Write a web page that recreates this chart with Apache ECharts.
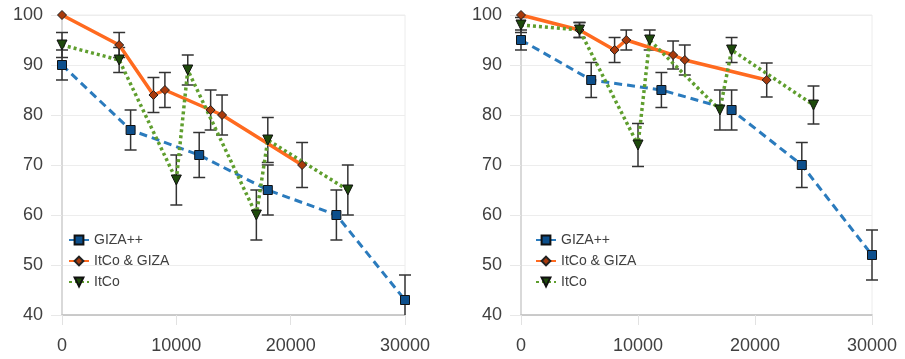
<!DOCTYPE html>
<html>
<head>
<meta charset="utf-8">
<script src="https://cdn.jsdelivr.net/npm/echarts@6/dist/echarts.min.js"></script>
<style>
  html, body { margin: 0; padding: 0; background: #fff; }
  #chart { width: 905px; height: 359px; }
</style>
</head>
<body>
<div id="chart"></div>
<script>
// x positions (training size) for each series
var gizaX = [0, 6000, 12000, 18000, 24000, 30000];
var itcoGizaX = [0, 5000, 8000, 9000, 13000, 14000, 21000];
var itcoX = [0, 5000, 10000, 11000, 17000, 18000, 25000];

// left panel values and error sizes
var gizaLeft = [90, 77, 72, 65, 60, 43];
var gizaLeftErr = [3, 4, 4.5, 5, 5, 5];
var itcoGizaLeft = [100, 94, 84, 85, 81, 80, 70];
var itcoGizaLeftErr = [0, 2.5, 3.5, 3.5, 4, 4, 4.5];
var itcoLeft = [94, 91, 67, 89, 60, 75, 65];
var itcoLeftErr = [2.5, 2.5, 5, 3, 5, 4.5, 5];

// right panel values and error sizes
var gizaRight = [95, 87, 85, 81, 70, 52];
var gizaRightErr = [2, 3.5, 3.5, 4, 4.5, 5];
var itcoGizaRight = [100, 97, 93, 95, 92, 91, 87];
var itcoGizaRightErr = [0, 1.5, 2.5, 2, 2.8, 3, 3.4];
var itcoRight = [98, 97, 74, 95, 81, 93, 82];
var itcoRightErr = [1.5, 1.5, 4.3, 2, 4, 2.5, 3.8];

var seriesNames = ['GIZA++', 'ItCo & GIZA', 'ItCo'];
var xTicks = { min: 0, max: 30000, interval: 10000 };
var yTicks = { min: 40, max: 100, interval: 10 };

var font = 'Liberation Sans, Arial, sans-serif';

function pairs(xs, ys) {
    return xs.map(function (x, i) { return [x, ys[i]]; });
}

function errData(xs, ys, errs) {
    var out = [];
    xs.forEach(function (x, i) {
        if (errs[i] > 0) out.push([x, ys[i] - errs[i], ys[i] + errs[i]]);
    });
    return out;
}

function renderErr(params, api) {
    var cs = params.coordSys;
    var x = api.value(0);
    var lo = api.coord([x, api.value(1)]);
    var hi = api.coord([x, api.value(2)]);
    var yTop = cs.y, yBot = cs.y + cs.height;
    var half = 6;
    var style = { stroke: '#333', lineWidth: 1.5 };
    var y1 = Math.max(hi[1], yTop), y2 = Math.min(lo[1], yBot);
    var kids = [{
        type: 'line', shape: { x1: hi[0], y1: y1, x2: lo[0], y2: y2 }, style: style
    }];
    if (hi[1] >= yTop) {
        kids.push({ type: 'line', shape: { x1: hi[0] - half, y1: hi[1], x2: hi[0] + half, y2: hi[1] }, style: style });
    }
    if (lo[1] <= yBot) {
        kids.push({ type: 'line', shape: { x1: lo[0] - half, y1: lo[1], x2: lo[0] + half, y2: lo[1] }, style: style });
    }
    return { type: 'group', children: kids };
}

function lineSeries(idx, name, data) {
    var styles = {
        'GIZA++': {
            line: { color: '#2b7bbd', width: 3, type: [8, 5] },
            symbol: 'rect', size: 9, rotate: 0,
            item: { color: '#0d4f8c', borderColor: '#111', borderWidth: 1 }
        },
        'ItCo & GIZA': {
            line: { color: '#ff6a1f', width: 3.5, type: 'solid' },
            symbol: 'diamond', size: 9, rotate: 0,
            item: { color: '#a83a0c', borderColor: '#222', borderWidth: 1 }
        },
        'ItCo': {
            line: { color: '#5f9e2e', width: 3.5, type: [3, 3] },
            symbol: 'triangle', size: 10, rotate: 180,
            item: { color: '#1e4a0c', borderColor: '#111', borderWidth: 1 }
        }
    };
    var s = styles[name];
    return {
        name: name,
        type: 'line',
        xAxisIndex: idx,
        yAxisIndex: idx,
        data: data,
        symbol: s.symbol,
        symbolSize: s.size,
        symbolRotate: s.rotate,
        showAllSymbol: true,
        lineStyle: s.line,
        itemStyle: s.item,
        z: 3,
        animation: false
    };
}

function errSeries(idx, key, data) {
    return {
        name: 'err-' + key + '-' + idx,
        type: 'custom',
        xAxisIndex: idx,
        yAxisIndex: idx,
        data: data,
        encode: { x: 0, y: [1, 2] },
        renderItem: renderErr,
        clip: false,
        z: 2,
        silent: true,
        animation: false
    };
}

function xAxisFor(idx) {
    return {
        gridIndex: idx,
        type: 'value',
        min: xTicks.min,
        max: xTicks.max,
        interval: xTicks.interval,
        axisLine: { show: true, onZero: false, lineStyle: { color: '#bdbdbd', width: 1.5 } },
        axisTick: { show: true, length: 10, lineStyle: { color: '#e2e2e2' } },
        axisLabel: {
            fontSize: 18, color: '#404040', margin: 22, fontFamily: font,
            formatter: function (v) { return String(v); }
        },
        splitLine: { show: false }
    };
}

function yAxisFor(idx) {
    return {
        gridIndex: idx,
        type: 'value',
        min: yTicks.min,
        max: yTicks.max,
        interval: yTicks.interval,
        axisLine: { show: true, onZero: false, lineStyle: { color: '#cfcfcf', width: 1.5 } },
        axisTick: { show: true, length: 11, lineStyle: { color: '#e8e8e8' } },
        axisLabel: { fontSize: 18, color: '#404040', margin: 19, fontFamily: font },
        splitLine: { show: true, lineStyle: { color: '#ededed' } }
    };
}

function legendFor(left) {
    return {
        orient: 'vertical',
        left: left,
        top: 233,
        padding: 0,
        itemGap: 7,
        itemWidth: 20,
        itemHeight: 11,
        data: seriesNames,
        selectedMode: false,
        textStyle: { fontSize: 14, color: '#404040', fontFamily: font }
    };
}

var chart = echarts.init(document.getElementById('chart'), null, { renderer: 'canvas' });

chart.setOption({
    backgroundColor: '#fff',
    animation: false,
    grid: [
        { left: 62, top: 15, width: 343, height: 300, show: true, borderColor: '#ececec', borderWidth: 1 },
        { left: 521, top: 15, width: 351, height: 300, show: true, borderColor: '#ececec', borderWidth: 1 }
    ],
    legend: [legendFor(68), legendFor(535)],
    xAxis: [xAxisFor(0), xAxisFor(1)],
    yAxis: [yAxisFor(0), yAxisFor(1)],
    series: [
        lineSeries(0, 'GIZA++', pairs(gizaX, gizaLeft)),
        lineSeries(0, 'ItCo & GIZA', pairs(itcoGizaX, itcoGizaLeft)),
        lineSeries(0, 'ItCo', pairs(itcoX, itcoLeft)),
        errSeries(0, 'giza', errData(gizaX, gizaLeft, gizaLeftErr)),
        errSeries(0, 'itcogiza', errData(itcoGizaX, itcoGizaLeft, itcoGizaLeftErr)),
        errSeries(0, 'itco', errData(itcoX, itcoLeft, itcoLeftErr)),
        lineSeries(1, 'GIZA++', pairs(gizaX, gizaRight)),
        lineSeries(1, 'ItCo & GIZA', pairs(itcoGizaX, itcoGizaRight)),
        lineSeries(1, 'ItCo', pairs(itcoX, itcoRight)),
        errSeries(1, 'giza', errData(gizaX, gizaRight, gizaRightErr)),
        errSeries(1, 'itcogiza', errData(itcoGizaX, itcoGizaRight, itcoGizaRightErr)),
        errSeries(1, 'itco', errData(itcoX, itcoRight, itcoRightErr))
    ]
});
</script>
</body>
</html>
